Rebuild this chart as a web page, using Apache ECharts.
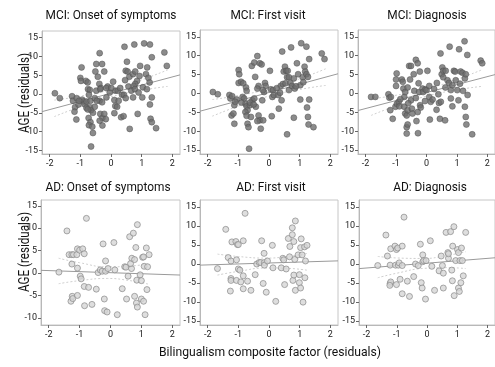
<!DOCTYPE html>
<html>
<head>
<meta charset="utf-8">
<script src="https://cdn.jsdelivr.net/npm/echarts@6/dist/echarts.min.js"></script>
<style>
  html, body { margin: 0; padding: 0; background: #fff; }
  #chart { width: 495px; height: 367px; }
</style>
</head>
<body>
<div id="chart"></div>
<script>
  // panel titles
  var panelTitles = ['MCI: Onset of symptoms', 'MCI: First visit', 'MCI: Diagnosis',
                     'AD: Onset of symptoms', 'AD: First visit', 'AD: Diagnosis'];
  var yTitle = 'AGE (residuals)';
  var xTitle = 'Bilingualism composite factor (residuals)';

  // tick labels
  var xTicks = [-2, -1, 0, 1, 2];
  var yTicksWide = [-15, -10, -5, 0, 5, 10, 15];
  var yTicksAd = [-10, -5, 0, 5, 10, 15];

  // MCI: onset of symptoms  [bilingualism, age residual]
  var mciOnset = [
    [-1.83, 0.2], [-1.67, -1.1], [-1.27, -0.6], [-1.24, -1.8], [-1.17, -3.5], [-1.19, -4.7], [-1.13, -6.8],
    [-1.06, -2.8], [-0.96, 7.1], [-1.0, 4.3], [-0.98, 3.5], [-0.82, 3.5], [-0.94, -1.5], [-0.89, -2.0],
    [-0.86, -2.7], [-0.8, -2.0], [-0.76, 3.1], [-0.75, 1.3], [-0.69, 1.1], [-0.72, -0.2], [-0.67, -1.8],
    [-0.69, -3.5], [-0.65, -4.3], [-0.73, -6.4], [-0.67, -7.5], [-0.72, -8.3], [-0.61, -8.7], [-0.59, -10.4],
    [-0.65, -14.0], [-0.59, -5.0], [-0.53, -3.4], [-0.53, -1.1], [-0.48, 0.9], [-0.51, 6.0], [-0.48, 8.0],
    [-0.43, 4.6], [-0.37, 10.9], [-0.38, 2.7], [-0.33, 1.6], [-0.29, 8.0], [-0.22, 6.0], [-0.35, 1.3],
    [-0.37, -1.8], [-0.29, -2.2], [-0.35, -5.3], [-0.28, -6.4], [-0.37, -7.1], [-0.22, -5.3], [-0.17, -6.7],
    [-0.28, -8.4], [-0.15, -0.9], [-0.11, 2.0], [-0.04, 0.4], [0.07, 3.3], [0.11, -1.6], [0.14, -3.2],
    [0.2, -3.4], [0.14, 0.9], [0.22, 0.9], [0.11, -5.1], [0.3, 1.6], [0.36, -0.2], [0.33, -6.2],
    [0.41, -5.9], [0.44, 12.6], [0.52, 8.6], [0.48, 6.2], [0.54, 6.0], [0.6, 4.6], [0.46, 3.7],
    [0.57, 2.0], [0.66, 0.9], [0.42, -0.2], [0.48, -1.1], [0.61, -9.3], [0.76, 13.2], [0.72, 5.3],
    [0.85, 3.5], [0.79, 2.7], [0.74, 2.1], [0.72, -0.9], [0.78, 1.3], [0.9, 0.4], [0.87, -5.3],
    [0.95, 7.5], [0.93, 4.8], [1.04, 1.8], [1.02, -0.9], [1.08, 13.5], [1.14, 5.3], [1.18, 7.1],
    [1.22, 4.3], [1.26, 3.1], [1.27, 13.2], [1.33, 9.8], [1.27, -2.8], [1.29, -6.6], [1.33, -7.5],
    [1.47, -9.1], [1.33, -0.9], [1.74, 11.1], [1.82, 7.5], [-1.12, -1.1], [-1.04, -1.8], [-0.8, -3.7],
    [-0.76, -4.1], [-0.46, -1.8], [-0.15, 1.6], [0.01, 1.6], [0.25, -1.8], [0.79, 6.0], [1.17, 1.3]
  ];

  // MCI: first visit
  var mciFirst = [
    [-1.83, 0.4], [-1.67, -0.2], [-1.29, -0.4], [-1.26, -1.3], [-1.2, -0.7], [-1.22, -5.8], [-1.16, -5.3],
    [-1.13, -8.0], [-1.13, -3.1], [-1.05, -1.6], [-0.99, 6.2], [-0.97, 5.1], [-0.99, 2.8], [-0.91, 3.1],
    [-0.84, 2.7], [-0.86, -0.9], [-0.81, -1.3], [-0.75, 1.6], [-0.73, 0.7], [-0.77, -2.7], [-0.73, -3.4],
    [-0.7, -4.4], [-0.77, -4.9], [-0.7, -8.0], [-0.67, -8.9], [-0.73, -5.9], [-0.65, -14.6], [-0.62, -3.1],
    [-0.59, -6.2], [-0.56, 7.3], [-0.48, 8.2], [-0.54, -1.8], [-0.48, -1.3], [-0.43, -3.5], [-0.45, 4.4],
    [-0.38, 9.9], [-0.34, 2.0], [-0.3, 8.0], [-0.24, 7.7], [-0.38, 1.3], [-0.34, -5.8], [-0.3, -7.1],
    [-0.38, -7.3], [-0.27, -9.3], [-0.19, -7.1], [-0.13, 2.8], [-0.11, 2.0], [-0.16, 0.4], [-0.22, -1.8],
    [0.03, 6.0], [0.06, 1.1], [0.11, -0.9], [0.13, 0.9], [0.09, -6.0], [0.16, -0.4], [0.3, -0.4],
    [0.32, -4.0], [0.38, 2.0], [0.41, -1.8], [0.43, 11.1], [0.45, 2.5], [0.48, 5.8], [0.52, 7.1],
    [0.56, 6.0], [0.61, 6.0], [0.59, 4.3], [0.54, 2.7], [0.65, 4.3], [0.7, 2.8], [0.65, 0.9],
    [0.59, -10.8], [0.72, 12.2], [0.75, 2.0], [0.81, 4.0], [0.84, 1.3], [0.81, -6.4], [0.91, 8.0],
    [0.95, 5.1], [1.02, 2.2], [1.02, -1.6], [1.05, 13.3], [1.1, 4.3], [1.16, 7.1], [1.18, 5.8],
    [1.22, 5.1], [1.22, 12.4], [1.27, 4.4], [1.24, -3.7], [1.27, -6.2], [1.29, -8.2], [1.31, 9.1],
    [1.31, -1.6], [1.45, -8.9], [1.72, 10.6], [1.81, 9.1], [-1.1, -2.2], [-0.9, -2.4], [-0.62, -2.4],
    [-0.5, -2.9], [-0.2, 0.9], [0.25, 1.4], [0.36, 0.2], [0.88, 1.9], [1.12, 3.0]
  ];

  // MCI: diagnosis
  var mciDiag = [
    [-1.82, -0.9], [-1.68, -0.9], [-1.25, -0.2], [-1.22, -1.1], [-1.17, -0.9], [-1.19, -4.4], [-1.11, -6.7],
    [-1.02, -3.5], [-0.98, 5.3], [-1.0, 3.7], [-1.0, 2.0], [-0.97, -2.7], [-0.91, -2.2], [-0.89, -3.4],
    [-0.81, 3.7], [-0.78, 3.1], [-0.76, 1.3], [-0.73, -0.9], [-0.7, 0.4], [-0.73, -3.5], [-0.7, -5.3],
    [-0.65, -5.8], [-0.65, -8.9], [-0.62, -8.2], [-0.65, -10.6], [-0.62, -4.4], [-0.62, 1.6], [-0.57, 7.3],
    [-0.51, 7.3], [-0.54, 3.7], [-0.51, -1.8], [-0.48, -4.0], [-0.46, -5.3], [-0.42, 5.1], [-0.4, 0.7],
    [-0.35, 8.9], [-0.29, 8.0], [-0.33, -7.3], [-0.29, -4.9], [-0.28, -10.5], [-0.26, 2.7], [-0.24, 0.4],
    [-0.22, 5.8], [-0.21, -3.1], [-0.19, -3.7], [-0.13, 1.3], [-0.11, 0.4], [-0.04, 1.1], [0.0, 0.9],
    [0.03, 6.0], [0.09, -0.9], [0.11, -6.9], [0.14, -2.2], [0.2, -1.6], [0.33, -4.3], [0.34, 2.8],
    [0.39, -0.2], [0.41, -2.5], [0.44, -6.7], [0.46, 10.6], [0.5, 5.1], [0.52, 6.9], [0.55, 6.0],
    [0.55, 4.3], [0.47, -2.2], [0.61, -7.1], [0.63, 6.0], [0.69, 3.5], [0.74, 2.8], [0.76, 12.4],
    [0.8, -1.3], [0.8, 0.9], [0.85, 2.2], [0.85, -3.4], [0.9, 6.0], [0.94, 5.8], [0.96, 3.5],
    [1.01, 0.9], [1.05, -1.8], [1.07, 11.7], [1.12, 5.8], [1.18, 5.5], [1.2, 0.7], [1.25, 13.8],
    [1.26, 4.0], [1.29, 5.1], [1.26, -3.5], [1.29, -6.2], [1.31, -8.2], [1.34, 10.2], [1.35, -0.4],
    [1.5, -10.8], [1.78, 8.7], [1.83, 8.0], [0.09, 2.0], [-0.86, -1.5], [-0.6, -2.6], [-0.35, -1.2],
    [-0.05, -2.0], [0.25, 1.2], [0.62, 1.6], [1.1, 2.6]
  ];

  // AD: onset of symptoms
  var adOnset = [
    [-1.67, 0.2], [-1.41, 9.4], [-1.34, 4.1], [-1.25, 2.0], [-1.25, 4.1], [-1.2, 4.1], [-1.28, -6.3],
    [-1.24, -5.2], [-1.22, -5.7], [-1.09, 4.1], [-1.07, 5.4], [-1.0, 5.1], [-0.9, 5.4], [-1.07, 1.1],
    [-1.07, -5.0], [-0.98, -0.7], [-0.95, -1.3], [-0.85, 4.3], [-0.85, -3.0], [-0.84, -7.3], [-0.78, 12.2],
    [-0.71, -3.2], [-0.6, -7.0], [-0.46, -3.6], [-0.4, 0.1], [-0.33, 0.7], [-0.27, 0.4], [-0.24, 6.5],
    [-0.2, -5.8], [-0.16, 2.7], [-0.16, 0.4], [-0.19, -8.4], [-0.11, -8.7], [-0.08, 1.0], [0.11, 6.8],
    [0.14, 0.7], [0.22, -9.3], [0.38, -3.5], [0.46, 1.4], [0.5, 1.3], [0.52, -5.8], [0.57, -0.7],
    [0.62, 8.1], [0.68, 1.0], [0.65, 2.1], [0.69, 3.3], [0.74, 8.9], [0.78, 3.0], [0.78, -5.2],
    [0.82, 5.7], [0.84, -6.7], [0.85, -1.6], [0.87, 10.8], [0.87, -7.6], [0.96, -0.4], [1.0, -1.7],
    [1.0, -5.8], [1.04, 3.5], [1.07, 3.6], [1.07, -6.3], [1.09, 1.5], [1.12, -9.3], [1.16, 5.6],
    [1.18, -3.7], [1.2, 1.4], [1.25, 4.1]
  ];

  // AD: first visit
  var adFirst = [
    [-1.68, -1.2], [-1.41, 9.1], [-1.33, 1.7], [-1.24, 0.8], [-1.21, 5.8], [-1.24, -3.8], [-1.24, -4.3],
    [-1.26, -7.1], [-1.08, 5.9], [-1.03, 5.1], [-1.0, 5.1], [-1.06, 1.1], [-1.06, -4.3], [-1.0, -1.3],
    [-0.95, -1.6], [-0.92, -4.7], [-0.84, 6.1], [-0.84, -3.1], [-0.84, -6.5], [-0.78, 13.3], [-0.7, -4.5],
    [-0.59, -6.9], [-0.45, -2.8], [-0.4, 0.0], [-0.32, 0.4], [-0.27, 0.4], [-0.24, 6.1], [-0.19, -5.1],
    [-0.16, 2.8], [-0.15, 0.4], [-0.15, -0.3], [-0.09, -7.4], [-0.05, 0.8], [0.11, 4.9], [0.13, -1.0],
    [0.22, -9.8], [0.4, -1.0], [0.45, 1.5], [0.48, 1.1], [0.51, -5.4], [0.56, -1.3], [0.63, 6.7],
    [0.67, 1.9], [0.68, 4.6], [0.76, 7.7], [0.76, 9.5], [0.78, -4.3], [0.81, -2.9], [0.81, 5.9],
    [0.86, 11.3], [0.84, 1.2], [0.86, -6.9], [0.95, 2.4], [0.99, -2.8], [0.99, -4.9], [1.03, -6.3],
    [1.05, 6.6], [1.03, 4.3], [1.08, 2.4], [1.11, -10.0], [1.16, 4.5], [1.17, -3.6], [1.19, 0.8],
    [1.24, 4.9]
  ];

  // AD: diagnosis
  var adDiag = [
    [-1.63, -0.4], [-1.36, 7.6], [-1.31, 2.1], [-1.2, 4.0], [-1.22, -0.3], [-1.22, -5.1], [-1.2, -4.7],
    [-1.23, -5.6], [-1.06, 4.7], [-1.01, 3.8], [-0.97, 4.2], [-1.04, -0.3], [-1.01, -5.4], [-0.95, -0.3],
    [-0.92, 0.3], [-0.89, -4.0], [-0.82, 4.7], [-0.82, -0.4], [-0.82, -7.8], [-0.76, 12.3], [-0.65, -4.5],
    [-0.58, -8.5], [-0.44, -3.3], [-0.38, 0.0], [-0.29, -0.4], [-0.22, 5.2], [-0.19, -4.9], [-0.16, -6.3],
    [-0.14, 2.4], [-0.14, 0.6], [-0.11, 0.9], [-0.05, -9.2], [-0.03, 0.9], [0.11, 6.1], [0.16, -0.6],
    [0.25, -6.9], [0.4, -1.8], [0.47, 2.1], [0.51, -0.4], [0.54, -2.4], [0.54, -6.3], [0.63, 8.3],
    [0.69, 3.0], [0.71, 1.5], [0.71, 2.7], [0.78, 8.5], [0.82, -1.6], [0.84, -4.4], [0.85, 4.7],
    [0.89, 9.8], [0.9, -8.3], [0.95, 0.9], [1.01, 3.8], [1.04, 3.0], [1.04, -6.3], [1.07, -7.2],
    [1.09, 0.9], [1.12, -4.9], [1.14, 4.2], [1.17, 0.9], [1.2, -3.1], [1.28, 8.3]
  ];

  // fitted lines, endpoints at the axis limits
  var fitLines = [
    [[-2.25, -4.7], [2.25, 5.1]],
    [[-2.25, -4.68], [2.25, 5.22]],
    [[-2.25, -4.5], [2.25, 5.0]],
    [[-2.25, 0.6], [2.25, -0.45]],
    [[-2.25, -0.29], [2.25, 0.83]],
    [[-2.25, -1.2], [2.25, 1.64]]
  ];

  // 95% confidence bands
  var bandUpper = [
    [[-1.85, -1.63], [-1, -0.58], [0, 1.15], [1, 3.78], [1.85, 6.43]],
    [[-1.85, -1.6], [-1, -0.53], [0, 1.22], [1, 3.87], [1.85, 6.54]],
    [[-1.82, -1.4], [-1, -0.46], [0, 1.2], [1, 3.76], [1.83, 6.3]],
    [[-1.68, 3.31], [-1, 2.3], [-0.1, 1.39], [0.6, 1.53], [1.25, 2.08]],
    [[-1.68, 2.6], [-1, 1.97], [-0.1, 1.55], [0.6, 1.97], [1.24, 2.78]],
    [[-1.63, 1.99], [-1, 1.59], [-0.1, 1.46], [0.6, 2.15], [1.28, 3.23]]
  ];
  var bandLower = [
    [[-1.85, -6.03], [-1, -3.38], [0, -0.75], [1, 0.98], [1.85, 2.03]],
    [[-1.85, -6.0], [-1, -3.33], [0, -0.68], [1, 1.07], [1.85, 2.14]],
    [[-1.82, -5.8], [-1, -3.26], [0, -0.7], [1, 0.96], [1.83, 1.9]],
    [[-1.68, -2.39], [-1, -1.7], [-0.1, -1.21], [0.6, -1.67], [1.25, -2.52]],
    [[-1.68, -2.9], [-1, -1.93], [-0.1, -1.05], [0.6, -1.13], [1.24, -1.62]],
    [[-1.63, -3.61], [-1, -2.41], [-0.1, -1.14], [0.6, -0.95], [1.28, -1.17]]
  ];

  var panelData = [mciOnset, mciFirst, mciDiag, adOnset, adFirst, adDiag];

  // layout: grid boxes in px
  var boxes = [
    { left: 42, top: 31, width: 138, height: 123 },
    { left: 200, top: 30, width: 138, height: 124 },
    { left: 358, top: 30, width: 139, height: 124 },
    { left: 41, top: 200, width: 139, height: 125 },
    { left: 200, top: 200, width: 138, height: 125 },
    { left: 359, top: 200, width: 138, height: 125 }
  ];
  var titlePos = [[111, 16], [268, 16], [427, 16], [108, 188], [271, 188], [430, 188]];
  var yRanges = [[-16, 16.8], [-16, 16.8], [-16, 16.8], [-11.6, 16.3], [-16, 16.8], [-16, 16.8]];

  var FONT = 'Roboto, "Noto Sans", sans-serif';
  var chart = echarts.init(document.getElementById('chart'), null, { renderer: 'canvas' });

  // narrowed text, the original uses a condensed DIN-like face
  function label(text, x, y, size, squeeze, rot) {
    return {
      type: 'text', x: x, y: y, rotation: rot || 0, scaleX: squeeze, silent: true,
      style: {
        text: text, fontSize: size, fontFamily: FONT, fill: '#111',
        align: 'center', verticalAlign: 'middle', textAlign: 'center', textVerticalAlign: 'middle'
      }
    };
  }

  var grids = [], xAxes = [], yAxes = [], series = [], texts = [];
  for (var i = 0; i < 6; i++) {
    var b = boxes[i];
    var mci = i < 3;
    var yTicks = i === 3 ? yTicksAd : yTicksWide;
    grids.push({
      left: b.left, top: b.top, width: b.width, height: b.height,
      show: true, borderColor: '#c6c6c6', borderWidth: 1, backgroundColor: 'transparent'
    });
    xAxes.push({
      gridIndex: i, type: 'value', min: -2.25, max: 2.25,
      axisLine: { show: true, onZero: false, lineStyle: { color: '#b8b8b8' } },
      axisTick: { show: true, customValues: xTicks, length: 3, lineStyle: { color: '#666' } },
      axisLabel: { customValues: xTicks, fontSize: 9, color: '#222', margin: 5, fontFamily: FONT },
      splitLine: { show: false }
    });
    yAxes.push({
      gridIndex: i, type: 'value', min: yRanges[i][0], max: yRanges[i][1],
      axisLine: { show: true, onZero: false, lineStyle: { color: '#b8b8b8' } },
      axisTick: { show: true, customValues: yTicks, length: 3, lineStyle: { color: '#666' } },
      axisLabel: { customValues: yTicks, fontSize: 9, color: '#222', margin: 4, fontFamily: FONT },
      splitLine: { show: false }
    });
    series.push({
      type: 'scatter', xAxisIndex: i, yAxisIndex: i, data: panelData[i],
      symbolSize: 6,
      itemStyle: mci
        ? { color: '#6e6e6e', borderColor: '#4e4e4e', borderWidth: 0.6 }
        : { color: '#d6d6d6', borderColor: '#8a8a8a', borderWidth: 0.9 },
      z: 3
    });
    series.push({
      type: 'line', xAxisIndex: i, yAxisIndex: i, data: fitLines[i],
      symbol: 'none', lineStyle: { color: '#9a9a9a', width: 1 }, z: 2, silent: true
    });
    [bandUpper[i], bandLower[i]].forEach(function (band) {
      series.push({
        type: 'line', xAxisIndex: i, yAxisIndex: i, data: band, smooth: true,
        symbol: 'none', lineStyle: { color: '#cfcfcf', width: 1, type: [2, 2] }, z: 1, silent: true
      });
    });
    texts.push(label(panelTitles[i], titlePos[i][0], titlePos[i][1], 13.5, 0.88));
  }
  texts.push(label(yTitle, 25, 93, 14, 0.83, Math.PI / 2));
  texts.push(label(yTitle, 25, 252, 14, 0.83, Math.PI / 2));
  texts.push(label(xTitle, 270, 353, 13.5, 0.9));

  chart.setOption({
    animation: false,
    graphic: { elements: texts },
    grid: grids,
    xAxis: xAxes,
    yAxis: yAxes,
    series: series
  });
</script>
</body>
</html>
